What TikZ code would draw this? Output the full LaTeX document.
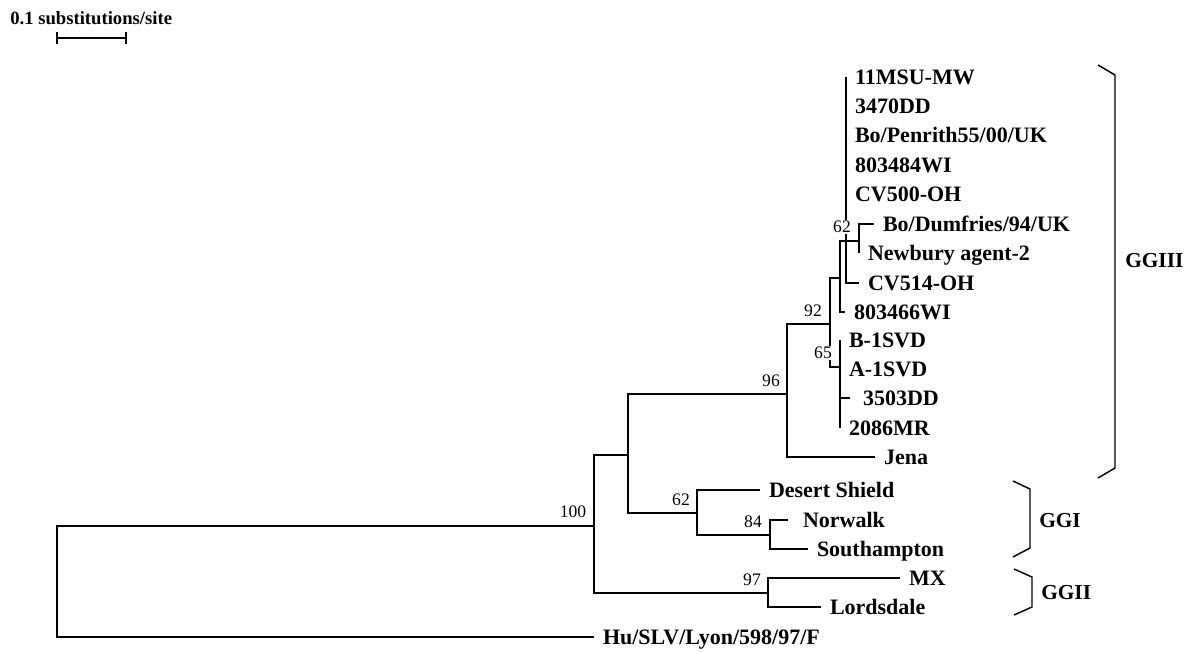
\documentclass[tikz,border=0pt]{standalone}
\usepackage{fontspec}
\setmainfont{Liberation Serif}
\begin{document}
\begin{tikzpicture}[x=0.75pt,y=-0.75pt,
  br/.style={line width=1.25pt},
  leaf/.style={anchor=west, inner ysep=0pt, inner xsep=0pt, outer xsep=#1,
    font=\fontsize{16.5}{18}\selectfont\bfseries, text height=10.9pt, text depth=0pt},
  leaf/.default=6.75pt,
  boot/.style={inner sep=0pt, font=\fontsize{13.2}{15}\selectfont, text height=8.9pt, text depth=0pt},
  bootcover/.style={boot, fill=white, inner sep=0.8pt},
  grp/.style={anchor=west, inner sep=0pt, font=\fontsize{16}{18}\selectfont\bfseries, text height=10.6pt, text depth=0pt},
  brk/.style={line width=1.1pt},
  scaletext/.style={anchor=west, inner sep=0pt, font=\fontsize{14}{16}\selectfont\bfseries, text height=9.3pt, text depth=0pt}]
\useasboundingbox[fill=white] (0,0) rectangle (1192,651);

% scale bar
\node[scaletext] (scl) at (10,18) {0.1 substitutions/site};
\coordinate (s1) at (57,38);
\coordinate (s2) at (126,38);
\draw[br] (s1) -- (s2);
\draw[br] ([yshift=4.5pt]s1) -- ([yshift=-4.5pt]s1);
\draw[br] ([yshift=4.5pt]s2) -- ([yshift=-4.5pt]s2);

% internal nodes
\coordinate (r) at (57,580);
\coordinate (n100) at (594,526);
\coordinate (nB) at (628,455);
\coordinate (n97) at (768,593);
\coordinate (n96) at (787,394);
\coordinate (nG1) at (697,513);
\coordinate (n84) at (770,535);
\coordinate (n92) at (830,324);
\coordinate (nA) at (840,278);
\coordinate (n65) at (840,367);
\coordinate (nP) at (846,241);
\coordinate (n62) at (859,241);

% leaves
\node[leaf] (l11msu) at (846,77) {11MSU-MW};
\node[leaf] (l3470) at (846,106) {3470DD};
\node[leaf] (lpen) at (846,135) {Bo/Penrith55/00/UK};
\node[leaf] (l803484) at (846,165) {803484WI};
\node[leaf] (lcv500) at (846,194) {CV500-OH};
\node[leaf] (ldum) at (874,224) {Bo/Dumfries/94/UK};
\node[leaf] (lnew) at (859,253) {Newbury agent-2};
\node[leaf] (lcv514) at (859,283) {CV514-OH};
\node[leaf] (l803466) at (845,312) {803466WI};
\node[leaf] (lb1) at (840,340) {B-1SVD};
\node[leaf] (la1) at (840,369) {A-1SVD};
\node[leaf=9.75pt] (l3503) at (850,398) {3503DD};
\node[leaf] (l2086) at (840,428) {2086MR};
\node[leaf] (ljena) at (875,457) {Jena};
\node[leaf] (ldes) at (760,490) {Desert Shield};
\node[leaf=11.25pt] (lnor) at (788,520) {Norwalk};
\node[leaf] (lsou) at (808,549) {Southampton};
\node[leaf] (lmx) at (900,578) {MX};
\node[leaf] (llor) at (821,607) {Lordsdale};
\node[leaf] (lhu) at (594,637) {Hu/SLV/Lyon/598/97/F};

% branches
\draw[br] (r) |- (n100);
\draw[br] (r) |- (lhu.west);
\draw[br] (n100) |- (nB);
\draw[br] (n100) |- (n97);
\draw[br] (n97) |- (lmx.west);
\draw[br] (n97) |- (llor.west);
\draw[br] (nB) |- (n96);
\draw[br] (nB) |- (nG1);
\draw[br] (nG1) |- (ldes.west);
\draw[br] (nG1) |- (n84);
\draw[br] (n84) |- (lnor.west);
\draw[br] (n84) |- (lsou.west);
\draw[br] (n96) |- (n92);
\draw[br] (n96) |- (ljena.west);
\draw[br] (n92) |- (nA);
\draw[br] (n92) |- (n65);
\draw[br] (n65) |- (lb1.west);
\draw[br] (n65) |- (la1.west);
\draw[br] (n65) |- (l3503.west);
\draw[br] (n65) |- (l2086.west);
\draw[br] (nA) |- (nP);
\draw[br] (nA) |- (l803466.west);
\draw[br] (nP) |- (l11msu.west);
\draw[br] (nP) |- (l3470.west);
\draw[br] (nP) |- (lpen.west);
\draw[br] (nP) |- (l803484.west);
\draw[br] (nP) |- (lcv500.west);
\draw[br] (nP) |- (n62);
\draw[br] (nP) |- (lcv514.west);
\draw[br] (n62) |- (ldum.west);
\draw[br] (n62) |- (lnew.west);

% bootstrap values
\node[boot] (b100) at (573,512) {100};
\node[boot] (b96) at (771,381) {96};
\node[boot] (b92) at (813,311) {92};
\node[bootcover] (b65) at (823,353) {65};
\node[bootcover] (b62a) at (842,227) {62};
\node[boot] (b62b) at (681,500) {62};
\node[boot] (b84) at (753,522) {84};
\node[boot] (b97) at (752,580) {97};

% groups
\node[grp] (g3) at (1125,260) {GGIII};
\node[grp] (g1) at (1039,520) {GGI};
\node[grp] (g2) at (1041,592) {GGII};
\draw[brk] (1098,65) -- (1115,75) -- (1115,468) -- (1098,478);
\draw[brk] (1013,481) -- (1030,489) -- (1030,548) -- (1013,557);
\draw[brk] (1014,569) -- (1032,577) -- (1032,607) -- (1014,615);
\end{tikzpicture}
\end{document}
